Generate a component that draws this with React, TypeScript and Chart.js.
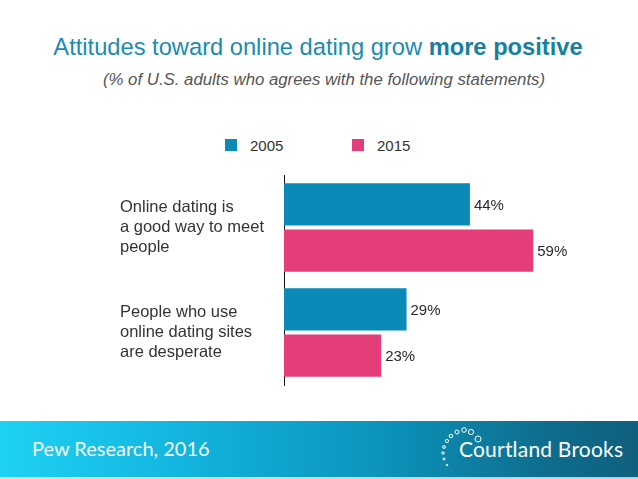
import React, { useEffect, useRef } from "react";
import { Chart, registerables } from "chart.js";

Chart.register(...registerables);

const categories: string[][] = [
  ["Online dating is", "a good way to meet", "people"],
  ["People who use", "online dating sites", "are desperate"],
];
const seriesNames = ["2005", "2015"];
const values2005 = [44, 29];
const values2015 = [59, 23];
const seriesColors = ["#0a8ab6", "#e33d7a"];

const FONT = "'Liberation Sans', Arial, Helvetica, sans-serif";

const valueLabels = {
  id: "valueLabels",
  afterDatasetsDraw(chart: any) {
    const ctx = chart.ctx;
    ctx.save();
    ctx.font = `15px ${FONT}`;
    ctx.fillStyle = "#2a2a2a";
    ctx.textBaseline = "middle";
    ctx.textAlign = "left";
    chart.data.datasets.forEach((ds: any, di: number) => {
      const meta = chart.getDatasetMeta(di);
      meta.data.forEach((bar: any, i: number) => {
        ctx.fillText(`${ds.data[i]}%`, bar.x + 4, bar.y + 1);
      });
    });
    ctx.restore();
  },
};

const logoCircles: number[][] = [
  [7, 44, 0.8],
  [4, 38, 1],
  [3, 32, 1.2],
  [4, 26, 1.4],
  [7, 20, 1.6],
  [11, 15, 1.8],
  [17, 11, 2],
  [24, 9, 2.3],
  [31, 11, 2.6],
  [38, 18, 3],
];

export default function App() {
  const ref = useRef<HTMLCanvasElement | null>(null);

  useEffect(() => {
    document.body.style.margin = "0";
    if (!ref.current) return;
    const chart = new Chart(ref.current, {
      type: "bar",
      data: {
        labels: categories,
        datasets: [
          {
            label: seriesNames[0],
            data: values2005,
            backgroundColor: seriesColors[0],
            barPercentage: 0.913,
            categoryPercentage: 0.88,
          },
          {
            label: seriesNames[1],
            data: values2015,
            backgroundColor: seriesColors[1],
            barPercentage: 0.913,
            categoryPercentage: 0.88,
          },
        ],
      },
      options: {
        indexAxis: "y",
        animation: false,
        responsive: false,
        devicePixelRatio: 1,
        layout: { padding: { left: 120, right: 16, top: 10, bottom: 10 } },
        plugins: {
          legend: { display: false },
          tooltip: { enabled: false },
          title: { display: false },
        },
        scales: {
          x: { display: false, min: 0, max: 80 },
          y: {
            grid: { display: false, drawTicks: false },
            border: { display: true, color: "#111", width: 1 },
            ticks: {
              crossAlign: "far",
              color: "#333",
              font: { family: FONT, size: 16.5, lineHeight: 1.2 },
              padding: 0,
            },
            afterFit(scale: any) {
              scale.width = 164;
              scale.paddingTop = 0;
              scale.paddingBottom = 0;
            },
          },
        },
      },
      plugins: [valueLabels],
    } as any);
    return () => chart.destroy();
  }, []);

  return (
    <div
      style={{
        position: "relative",
        width: 638,
        height: 479,
        overflow: "hidden",
        background: "#fff",
        fontFamily: FONT,
      }}
    >
      <div
        style={{
          position: "absolute",
          top: 33,
          left: 0,
          width: 636,
          textAlign: "center",
          fontSize: 23.7,
          lineHeight: "28px",
          color: "#1b8bb0",
          whiteSpace: "nowrap",
        }}
      >
        Attitudes toward online dating grow <b style={{ color: "#17809f" }}>more positive</b>
      </div>
      <div
        style={{
          position: "absolute",
          top: 69,
          left: 0,
          width: 648,
          textAlign: "center",
          fontSize: 16.8,
          lineHeight: "22px",
          fontStyle: "italic",
          color: "#555",
          whiteSpace: "nowrap",
        }}
      >
        (% of U.S. adults who agrees with the following statements)
      </div>
      {seriesNames.map((name, i) => (
        <div
          key={name}
          style={{
            position: "absolute",
            top: 136,
            left: i === 0 ? 225 : 352,
            height: 18,
            display: "flex",
            alignItems: "center",
            fontSize: 15,
            color: "#333",
          }}
        >
          <span
            style={{
              display: "inline-block",
              width: 12,
              height: 12,
              background: seriesColors[i],
              marginRight: 13,
            }}
          />
          {name}
        </div>
      ))}
      <canvas
        ref={ref}
        width={638}
        height={230}
        style={{ position: "absolute", top: 165, left: 0, width: 638, height: 230 }}
      />
      <div
        style={{
          position: "absolute",
          top: 421,
          left: 0,
          width: 638,
          height: 56,
          background:
            "linear-gradient(to right, #1ed2f4 0%, #12b3dc 30%, #0c93bb 60%, #0e6e8e 85%, #0f5f7d 100%)",
        }}
      >
        <div
          style={{
            position: "absolute",
            left: 32,
            top: 14,
            fontFamily: "Lato, 'Open Sans', sans-serif",
            fontSize: 20,
            color: "#f4fbfd",
            lineHeight: "26px",
            whiteSpace: "nowrap",
          }}
        >
          Pew Research, 2016
        </div>
        <svg width={46} height={56} style={{ position: "absolute", left: 440, top: 0 }}>
          {logoCircles.map(([cx, cy, r], k) => (
            <circle key={k} cx={cx} cy={cy} r={r} fill="none" stroke="#fff" strokeWidth={1} />
          ))}
        </svg>
        <div
          style={{
            position: "absolute",
            left: 459,
            top: 15,
            fontFamily: "Lato, 'Open Sans', sans-serif",
            fontSize: 21,
            letterSpacing: 0.2,
            color: "#fff",
            lineHeight: "26px",
            whiteSpace: "nowrap",
          }}
        >
          Courtland Brooks
        </div>
      </div>
      <div
        style={{
          position: "absolute",
          top: 477,
          left: 0,
          width: 638,
          height: 2,
          background: "linear-gradient(to right, #bfeffa, #a9d6e3)",
        }}
      />
    </div>
  );
}
